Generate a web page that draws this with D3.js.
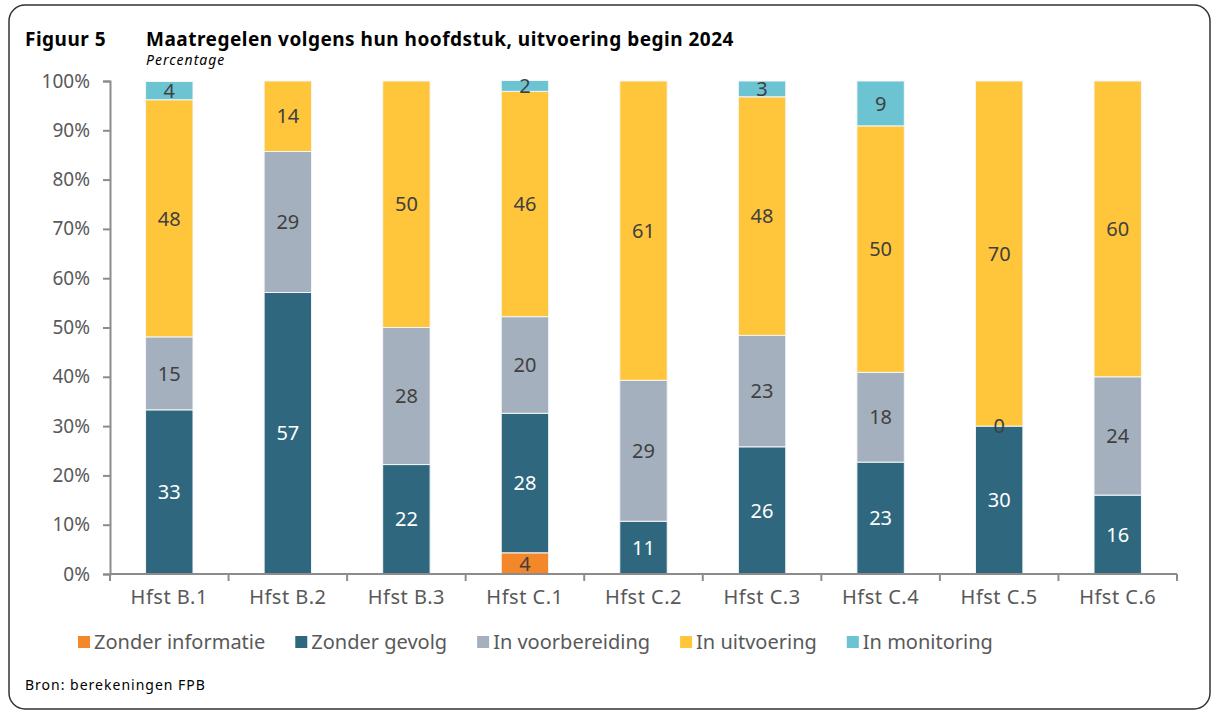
<!DOCTYPE html>
<html>
<head>
<meta charset="utf-8">
<script src="https://cdn.jsdelivr.net/npm/d3@7"></script>
<style>
  body { margin: 0; background: #fff; }
  svg text { font-family: "Noto Sans", sans-serif; }
</style>
</head>
<body>
<div id="chart"></div>
<script>
// chart data (percentages, labels are shown rounded)
var categories = ["Hfst B.1", "Hfst B.2", "Hfst B.3", "Hfst C.1", "Hfst C.2", "Hfst C.3", "Hfst C.4", "Hfst C.5", "Hfst C.6"];
var seriesNames = ["Zonder informatie", "Zonder gevolg", "In voorbereiding", "In uitvoering", "In monitoring"];
// null = empty cell (no label), 0 = shown as 0
var zonderInformatie = [null, null, null, 4.3, null, null, null, null, null];
var zonderGevolg     = [33.3, 57.1, 22.2, 28.3, 10.7, 25.8, 22.7, 30, 16];
var inVoorbereiding  = [14.8, 28.6, 27.8, 19.6, 28.6, 22.6, 18.2, 0, 24];
var inUitvoering     = [48.1, 14.3, 50, 45.7, 60.7, 48.4, 50, 70, 60];
var inMonitoring     = [3.7, null, null, 2.2, null, 3.2, 9.1, null, null];
var yTicks = [0, 10, 20, 30, 40, 50, 60, 70, 80, 90, 100];

var colors = ["#F4872A", "#2E677E", "#A5B0BE", "#FFC63C", "#6CC4D3"];
var labelColors = ["#404040", "#ffffff", "#404040", "#404040", "#404040"];

// build rows for the stack
var seriesValues = [zonderInformatie, zonderGevolg, inVoorbereiding, inUitvoering, inMonitoring];
var rows = categories.map(function(c, i) {
    var row = {cat: c};
    seriesNames.forEach(function(s, j) { row[s] = seriesValues[j][i]; });
    return row;
});

var width = 1215, height = 713;
var svg = d3.select("#chart").append("svg")
    .attr("width", width)
    .attr("height", height);

// frame
svg.append("rect")
    .attr("x", 9).attr("y", 5)
    .attr("width", 1201).attr("height", 704)
    .attr("rx", 16).attr("ry", 16)
    .attr("fill", "none")
    .attr("stroke", "#333")
    .attr("stroke-width", 1.5);

// titles
svg.append("text").attr("x", 25).attr("y", 46)
    .attr("font-size", 19).attr("font-weight", "bold").attr("fill", "#000")
    .attr("letter-spacing", 0.5)
    .text("Figuur 5");
svg.append("text").attr("x", 146).attr("y", 46)
    .attr("font-size", 19).attr("font-weight", "bold").attr("fill", "#000")
    .attr("letter-spacing", 0.5)
    .text("Maatregelen volgens hun hoofdstuk, uitvoering begin 2024");
svg.append("text").attr("x", 146).attr("y", 65)
    .attr("font-size", 14).attr("font-style", "italic").attr("fill", "#000")
    .attr("letter-spacing", 1)
    .text("Percentage");

// scales
var x = d3.scaleBand()
    .domain(categories)
    .range([110, 1177])
    .paddingInner(0.6)
    .paddingOuter(0.3);
var y = d3.scaleLinear().domain([0, 100]).range([574, 81]);

var stack = d3.stack()
    .keys(seriesNames)
    .value(function(d, key) { return d[key] || 0; });
var stacked = stack(rows);

// bars
var layers = svg.append("g").selectAll("g")
    .data(stacked)
    .enter().append("g")
    .attr("fill", function(d, i) { return colors[i]; });

layers.selectAll("rect")
    .data(function(d) { return d; })
    .enter().append("rect")
    .attr("x", function(d) { return x(d.data.cat); })
    .attr("width", x.bandwidth())
    .attr("y", function(d) { return y(d[1]); })
    .attr("height", function(d) { return y(d[0]) - y(d[1]); })
    .attr("stroke", "#f4f6f8")
    .attr("stroke-width", 1);

// value labels
var fmt = d3.format(".0f");
stacked.forEach(function(layer, i) {
    svg.append("g").selectAll("text")
        .data(layer.filter(function(d) { return d.data[layer.key] != null; }))
        .enter().append("text")
        .attr("x", function(d) { return x(d.data.cat) + x.bandwidth() / 2; })
        .attr("y", function(d) { return y((d[0] + d[1]) / 2); })
        .attr("dy", "0.36em")
        .attr("text-anchor", "middle")
        .attr("font-size", 20)
        .attr("fill", labelColors[i])
        .text(function(d) { return fmt(d.data[layer.key]); });
});

// y axis
var yAxis = d3.axisLeft(y)
    .tickValues(yTicks)
    .tickSize(7)
    .tickPadding(13)
    .tickFormat(function(d) { return d + "%"; });
var gy = svg.append("g").attr("transform", "translate(110,0)").call(yAxis);
gy.select(".domain").attr("stroke", "#8c8c8c").attr("stroke-width", 2);
gy.selectAll(".tick line").attr("stroke", "#8c8c8c").attr("stroke-width", 2);
gy.selectAll(".tick text").attr("font-size", 19).attr("fill", "#595959")
    .style("font-family", "Noto Sans");

// x axis (ticks between categories)
var step = x.step();
var gx = svg.append("g").attr("transform", "translate(0,574)");
gx.append("line")
    .attr("x1", x.range()[0]).attr("x2", x.range()[1])
    .attr("stroke", "#8c8c8c").attr("stroke-width", 2);
gx.selectAll(".xtick")
    .data(d3.range(categories.length + 1))
    .enter().append("line")
    .attr("class", "xtick")
    .attr("x1", function(i) { return x.range()[0] + i * step; })
    .attr("x2", function(i) { return x.range()[0] + i * step; })
    .attr("y1", 0).attr("y2", 7)
    .attr("stroke", "#8c8c8c").attr("stroke-width", 2);
gx.selectAll(".xlabel")
    .data(categories)
    .enter().append("text")
    .attr("class", "xlabel")
    .attr("x", function(d) { return x(d) + x.bandwidth() / 2; })
    .attr("y", 30)
    .attr("text-anchor", "middle")
    .attr("font-size", 20)
    .attr("letter-spacing", 0.5)
    .attr("fill", "#595959")
    .text(function(d) { return d; });

// legend
var legend = svg.append("g").attr("transform", "translate(78,642)");
var lx = 0;
seriesNames.forEach(function(name, i) {
    var item = legend.append("g").attr("transform", "translate(" + lx + ",0)");
    item.append("rect")
        .attr("x", 0).attr("y", -6)
        .attr("width", 12).attr("height", 12)
        .attr("fill", colors[i]);
    var t = item.append("text")
        .attr("x", 16).attr("dy", "0.36em")
        .attr("font-size", 20)
        .attr("fill", "#595959")
        .text(name);
    lx += 16 + t.node().getComputedTextLength() + 30;
});

// source
svg.append("text").attr("x", 25).attr("y", 690)
    .attr("font-size", 14).attr("fill", "#000")
    .attr("letter-spacing", 1)
    .text("Bron: berekeningen FPB");
</script>
</body>
</html>
